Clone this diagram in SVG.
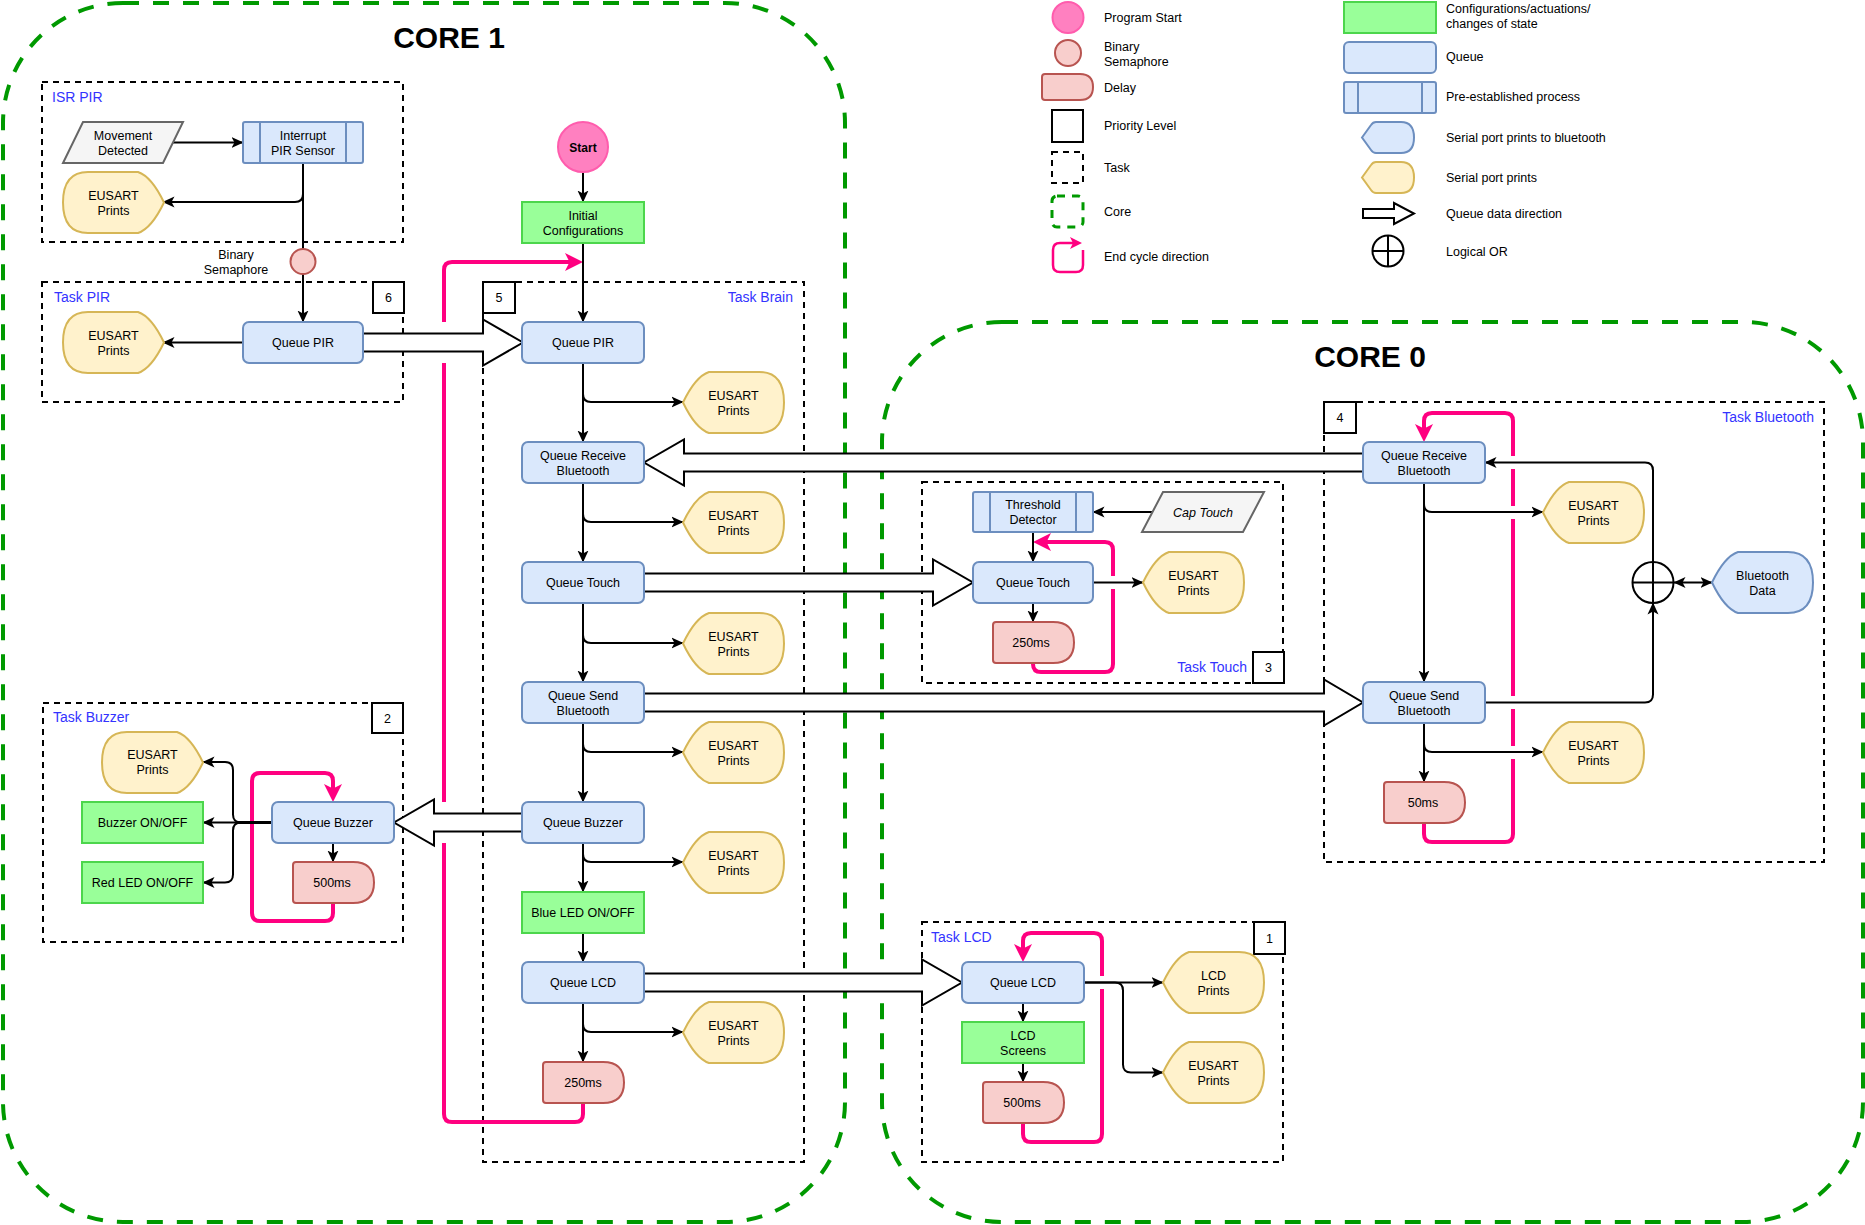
<svg xmlns="http://www.w3.org/2000/svg" width="1865" height="1225" viewBox="0 0 1865 1225">
<style>
text{font-family:"Liberation Sans",Arial,Helvetica,sans-serif;font-size:12.5px;fill:#000}
.c{text-anchor:middle}
.r{text-anchor:end}
.tl{font-size:14px;fill:#3333ff}
.ttl{font-size:30px;font-weight:bold}
.it{font-style:italic}
.b{font-weight:bold}
.core{fill:none;stroke:#009900;stroke-width:4;stroke-dasharray:16 14}
.task{fill:none;stroke:#000;stroke-width:2;stroke-dasharray:6 5}
.prio{fill:#fff;stroke:#000;stroke-width:2}
.q{fill:#dae8fc;stroke:#6c8ebf;stroke-width:2}
.eus{fill:#fff2cc;stroke:#d6b656;stroke-width:2}
.dly{fill:#f8cecc;stroke:#b85450;stroke-width:2}
.act{fill:#99ff99;stroke:#4cd64c;stroke-width:2}
.io{fill:#f5f5f5;stroke:#666;stroke-width:2}
.start{fill:#ff80c0;stroke:#ff5cad;stroke-width:2}
.ln{fill:none;stroke:#000;stroke-width:2}
.cyc{fill:none;stroke:#ff0080;stroke-width:4;stroke-linejoin:round}
.big{fill:#fff;stroke:#000;stroke-width:2}
</style>
<defs>
  <!-- serial print shape, point on the left -->
  <path id="disp" d="M0,30.5 C6,18 14,4 26,0 L76,0 Q101,0 101,30.5 Q101,61 76,61 L26,61 C14,57 6,43 0,30.5 Z"/>
  <!-- serial print shape, point on the right -->
  <path id="dispR" d="M101,30.5 C95,18 87,4 75,0 L25,0 Q0,0 0,30.5 Q0,61 25,61 L75,61 C87,57 95,43 101,30.5 Z"/>
  <!-- small serial print shape for the legend -->
  <path id="dispS" d="M0,15.5 L9,3 Q11,0 14,0 L39,0 Q52,0 52,15.5 Q52,31 39,31 L14,31 Q11,31 9,28 Z"/>
  <!-- delay shape -->
  <path id="delay" d="M3,0 L60,0 Q81,0 81,20.5 Q81,41 60,41 L3,41 Q0,41 0,38 L0,3 Q0,0 3,0 Z"/>
  <marker id="ar" markerUnits="userSpaceOnUse" markerWidth="12" markerHeight="12" viewBox="0 0 12 12" refX="11.5" refY="6" orient="auto-start-reverse">
    <path d="M0,0.5 L12,6 L0,11.5 L3,6 Z" fill="#000"/>
  </marker>
  <marker id="pk" markerUnits="userSpaceOnUse" markerWidth="18" markerHeight="18" viewBox="0 0 18 18" refX="10" refY="9" orient="auto">
    <path d="M0,0 L18,9 L0,18 L4.5,9 Z" fill="#ff0080"/>
  </marker>
  <marker id="pks" markerUnits="userSpaceOnUse" markerWidth="12" markerHeight="12" viewBox="0 0 12 12" refX="6" refY="6" orient="auto">
    <path d="M0,0 L12,6 L0,12 L3,6 Z" fill="#ff0080"/>
  </marker>
</defs>

<rect width="1865" height="1225" fill="#fff"/>

<!-- cores -->
<g id="core1">
  <rect class="core" x="3" y="3" width="842" height="1219" rx="120"/>
  <text class="ttl c" x="449" y="48">CORE 1</text>
</g>
<g id="core0">
  <rect class="core" x="882" y="322" width="981" height="900" rx="120"/>
  <text class="ttl c" x="1370" y="367">CORE 0</text>
</g>

<!-- task frames -->
<g id="task-isr-pir">
  <rect class="task" x="42" y="82" width="361" height="160"/>
  <text class="tl" x="52" y="102">ISR PIR</text>
</g>
<g id="task-pir">
  <rect class="task" x="42" y="282" width="361" height="120"/>
  <text class="tl" x="54" y="302">Task PIR</text>
</g>
<g id="task-brain">
  <rect class="task" x="483" y="282" width="321" height="880"/>
  <text class="tl r" x="793" y="302">Task Brain</text>
</g>
<g id="task-buzzer">
  <rect class="task" x="43" y="703" width="360" height="239"/>
  <text class="tl" x="53" y="722">Task Buzzer</text>
</g>
<g id="task-bluetooth">
  <rect class="task" x="1324" y="402" width="500" height="460"/>
  <text class="tl r" x="1814" y="422">Task Bluetooth</text>
</g>
<g id="task-touch">
  <rect class="task" x="922" y="482" width="361" height="201"/>
  <text class="tl r" x="1247" y="672">Task Touch</text>
</g>
<g id="task-lcd">
  <rect class="task" x="922" y="922" width="361" height="240"/>
  <text class="tl" x="931" y="942">Task LCD</text>
</g>

<!-- connectors -->
<g id="connectors">
  <!-- end-of-cycle loops -->
  <path class="cyc" marker-end="url(#pk)" d="M583,1103 L583,1114 Q583,1122 575,1122 L452,1122 Q444,1122 444,1114 L444,843 M444,802 L444,363 M444,322 L444,270 Q444,262 452,262 L575,262"/>
  <path class="cyc" marker-end="url(#pk)" d="M333,902 L333,913 Q333,921 325,921 L260,921 Q252,921 252,913 L252,781 Q252,773 260,773 L325,773 Q333,773 333,781 L333,794"/>
  <path class="cyc" marker-end="url(#pk)" d="M1033,663 L1033,664 Q1033,672 1041,672 L1105,672 Q1113,672 1113,664 L1113,589 M1113,576 L1113,550 Q1113,542 1105,542 L1041,542"/>
  <path class="cyc" marker-end="url(#pk)" d="M1424,823 L1424,834 Q1424,842 1432,842 L1505,842 Q1513,842 1513,834 L1513,759 M1513,746 L1513,709 M1513,696 L1513,519 M1513,506 L1513,469 M1513,456 L1513,421 Q1513,413 1505,413 L1432,413 Q1424,413 1424,421 L1424,434"/>
  <path class="cyc" marker-end="url(#pk)" d="M1023,1123 L1023,1134 Q1023,1142 1031,1142 L1094,1142 Q1102,1142 1102,1134 L1102,989 M1102,976 L1102,941 Q1102,933 1094,933 L1031,933 Q1023,933 1023,941 L1023,954"/>

  <!-- queue data transfers -->
  <polygon class="big" points="363,333.5 483,333.5 483,319.5 523,342.5 483,365.5 483,351.5 363,351.5"/>
  <polygon class="big" points="1363,453.5 684,453.5 684,439.5 644,462.5 684,485.5 684,471.5 1363,471.5"/>
  <polygon class="big" points="644,573.5 933,573.5 933,559.5 973,582.5 933,605.5 933,591.5 644,591.5"/>
  <polygon class="big" points="644,693.5 1324,693.5 1324,679.5 1363,702.5 1324,725.5 1324,711.5 644,711.5"/>
  <polygon class="big" points="522,813.5 434,813.5 434,799.5 394,822.5 434,845.5 434,831.5 522,831.5"/>
  <polygon class="big" points="644,973.5 922,973.5 922,959.5 962,982.5 922,1005.5 922,991.5 644,991.5"/>

  <!-- ISR PIR / Task PIR -->
  <path class="ln" marker-end="url(#ar)" d="M173,142.5 L243,142.5"/>
  <path class="ln" d="M303,163 L303,249"/>
  <path class="ln" marker-end="url(#ar)" d="M303,163 L303,194 Q303,202 295,202 L163,202"/>
  <path class="ln" marker-end="url(#ar)" d="M303,274 L303,322"/>
  <path class="ln" marker-end="url(#ar)" d="M243,342.5 L163,342.5"/>

  <!-- Task Brain -->
  <path class="ln" marker-end="url(#ar)" d="M583,172 L583,202"/>
  <path class="ln" marker-end="url(#ar)" d="M583,243 L583,322"/>
  <path class="ln" marker-end="url(#ar)" d="M583,363 L583,442"/>
  <path class="ln" marker-end="url(#ar)" d="M583,363 L583,394 Q583,402 591,402 L683,402"/>
  <path class="ln" marker-end="url(#ar)" d="M583,483 L583,562"/>
  <path class="ln" marker-end="url(#ar)" d="M583,483 L583,514 Q583,522 591,522 L683,522"/>
  <path class="ln" marker-end="url(#ar)" d="M583,603 L583,682"/>
  <path class="ln" marker-end="url(#ar)" d="M583,603 L583,635 Q583,643 591,643 L683,643"/>
  <path class="ln" marker-end="url(#ar)" d="M583,723 L583,802"/>
  <path class="ln" marker-end="url(#ar)" d="M583,723 L583,744 Q583,752 591,752 L683,752"/>
  <path class="ln" marker-end="url(#ar)" d="M583,843 L583,892"/>
  <path class="ln" marker-end="url(#ar)" d="M583,843 L583,854 Q583,862 591,862 L683,862"/>
  <path class="ln" marker-end="url(#ar)" d="M583,933 L583,962"/>
  <path class="ln" marker-end="url(#ar)" d="M583,1003 L583,1062"/>
  <path class="ln" marker-end="url(#ar)" d="M583,1003 L583,1024 Q583,1032 591,1032 L683,1032"/>

  <!-- Task Buzzer -->
  <path class="ln" marker-end="url(#ar)" d="M272,822.5 L241,822.5 Q233,822.5 233,814.5 L233,770 Q233,762 225,762 L203,762"/>
  <path class="ln" marker-end="url(#ar)" d="M272,822.5 L203,822.5"/>
  <path class="ln" marker-end="url(#ar)" d="M272,822.5 L241,822.5 Q233,822.5 233,830.5 L233,874.5 Q233,882.5 225,882.5 L203,882.5"/>
  <path class="ln" d="M272,822.5 L237,822.5" style="stroke-width:3"/>
  <path class="ln" marker-end="url(#ar)" d="M333,843 L333,862"/>

  <!-- Task Touch -->
  <path class="ln" marker-end="url(#ar)" d="M1152,512 L1093,512"/>
  <path class="ln" marker-end="url(#ar)" d="M1033,532 L1033,562"/>
  <path class="ln" marker-end="url(#ar)" d="M1093,582.5 L1143,582.5"/>
  <path class="ln" marker-end="url(#ar)" d="M1033,603 L1033,622"/>

  <!-- Task Bluetooth -->
  <path class="ln" marker-end="url(#ar)" d="M1424,483 L1424,682"/>
  <path class="ln" marker-end="url(#ar)" d="M1424,483 L1424,504 Q1424,512 1432,512 L1543,512"/>
  <path class="ln" marker-end="url(#ar)" d="M1424,723 L1424,782"/>
  <path class="ln" marker-end="url(#ar)" d="M1424,723 L1424,744 Q1424,752 1432,752 L1543,752"/>
  <path class="ln" marker-end="url(#ar)" d="M1485,702.5 L1645,702.5 Q1653,702.5 1653,694.5 L1653,603"/>
  <path class="ln" marker-end="url(#ar)" d="M1653,562 L1653,470.5 Q1653,462.5 1645,462.5 L1485,462.5"/>
  <path class="ln" marker-start="url(#ar)" marker-end="url(#ar)" d="M1674,582.5 L1712,582.5"/>

  <!-- Task LCD -->
  <path class="ln" marker-end="url(#ar)" d="M1084,982.5 L1163,982.5"/>
  <path class="ln" marker-end="url(#ar)" d="M1084,982.5 L1115,982.5 Q1123,982.5 1123,990.5 L1123,1064.5 Q1123,1072.5 1131,1072.5 L1163,1072.5"/>
  <path class="ln" marker-end="url(#ar)" d="M1023,1003 L1023,1022"/>
  <path class="ln" marker-end="url(#ar)" d="M1023,1063 L1023,1082"/>
</g>

<!-- ISR PIR nodes -->
<g id="movement-detected">
  <polygon class="io" points="83,122 183,122 163,163 63,163"/>
  <text class="c" x="123" y="139.5">Movement</text>
  <text class="c" x="123" y="154.5">Detected</text>
</g>
<g id="interrupt-pir-sensor">
  <rect class="q" x="243" y="122" width="120" height="41" rx="2"/>
  <path class="q" d="M260,122 L260,163 M346,122 L346,163"/>
  <text class="c" x="303" y="139.5">Interrupt</text>
  <text class="c" x="303" y="154.5">PIR Sensor</text>
</g>
<g id="isr-eusart">
  <use href="#dispR" class="eus" x="63" y="172"/>
  <text class="c" x="113.5" y="199.5">EUSART</text>
  <text class="c" x="113.5" y="214.5">Prints</text>
</g>
<g id="binary-semaphore">
  <circle cx="303" cy="261.5" r="12.5" fill="#f8cecc" stroke="#b85450" stroke-width="2"/>
  <text class="c" x="236" y="258.5">Binary</text>
  <text class="c" x="236" y="273.5">Semaphore</text>
</g>

<!-- Task PIR nodes -->
<g id="prio-6">
  <rect class="prio" x="373" y="282" width="31" height="31"/>
  <text class="c" x="388.5" y="302">6</text>
</g>
<g id="pir-queue">
  <rect class="q" x="243" y="322" width="120" height="41" rx="6"/>
  <text class="c" x="303" y="347">Queue PIR</text>
</g>
<g id="pir-eusart">
  <use href="#dispR" class="eus" x="63" y="312"/>
  <text class="c" x="113.5" y="339.5">EUSART</text>
  <text class="c" x="113.5" y="354.5">Prints</text>
</g>

<!-- Task Brain nodes -->
<g id="prio-5">
  <rect class="prio" x="483" y="282" width="32" height="31"/>
  <text class="c" x="499" y="302">5</text>
</g>
<g id="start">
  <circle class="start" cx="583" cy="147" r="25"/>
  <text class="c b" x="583" y="151.5" style="font-size:12px">Start</text>
</g>
<g id="initial-configurations">
  <rect class="act" x="522" y="202" width="122" height="41"/>
  <text class="c" x="583" y="219.5">Initial</text>
  <text class="c" x="583" y="234.5">Configurations</text>
</g>
<g id="brain-queue-pir">
  <rect class="q" x="522" y="322" width="122" height="41" rx="6"/>
  <text class="c" x="583" y="347">Queue PIR</text>
</g>
<g id="brain-eusart-1">
  <use href="#disp" class="eus" x="683" y="372"/>
  <text class="c" x="733.5" y="399.5">EUSART</text>
  <text class="c" x="733.5" y="414.5">Prints</text>
</g>
<g id="brain-queue-receive-bt">
  <rect class="q" x="522" y="442" width="122" height="41" rx="6"/>
  <text class="c" x="583" y="459.5">Queue Receive</text>
  <text class="c" x="583" y="474.5">Bluetooth</text>
</g>
<g id="brain-eusart-2">
  <use href="#disp" class="eus" x="683" y="492"/>
  <text class="c" x="733.5" y="519.5">EUSART</text>
  <text class="c" x="733.5" y="534.5">Prints</text>
</g>
<g id="brain-queue-touch">
  <rect class="q" x="522" y="562" width="122" height="41" rx="6"/>
  <text class="c" x="583" y="587">Queue Touch</text>
</g>
<g id="brain-eusart-3">
  <use href="#disp" class="eus" x="683" y="613"/>
  <text class="c" x="733.5" y="640.5">EUSART</text>
  <text class="c" x="733.5" y="655.5">Prints</text>
</g>
<g id="brain-queue-send-bt">
  <rect class="q" x="522" y="682" width="122" height="41" rx="6"/>
  <text class="c" x="583" y="699.5">Queue Send</text>
  <text class="c" x="583" y="714.5">Bluetooth</text>
</g>
<g id="brain-eusart-4">
  <use href="#disp" class="eus" x="683" y="722"/>
  <text class="c" x="733.5" y="749.5">EUSART</text>
  <text class="c" x="733.5" y="764.5">Prints</text>
</g>
<g id="brain-queue-buzzer">
  <rect class="q" x="522" y="802" width="122" height="41" rx="6"/>
  <text class="c" x="583" y="827">Queue Buzzer</text>
</g>
<g id="brain-eusart-5">
  <use href="#disp" class="eus" x="683" y="832"/>
  <text class="c" x="733.5" y="859.5">EUSART</text>
  <text class="c" x="733.5" y="874.5">Prints</text>
</g>
<g id="blue-led">
  <rect class="act" x="522" y="892" width="122" height="41"/>
  <text class="c" x="583" y="917">Blue LED ON/OFF</text>
</g>
<g id="brain-queue-lcd">
  <rect class="q" x="522" y="962" width="122" height="41" rx="6"/>
  <text class="c" x="583" y="987">Queue LCD</text>
</g>
<g id="brain-eusart-6">
  <use href="#disp" class="eus" x="683" y="1002"/>
  <text class="c" x="733.5" y="1029.5">EUSART</text>
  <text class="c" x="733.5" y="1044.5">Prints</text>
</g>
<g id="brain-delay">
  <use href="#delay" class="dly" x="543" y="1062"/>
  <text class="c" x="583" y="1087">250ms</text>
</g>

<!-- Task Buzzer nodes -->
<g id="prio-2">
  <rect class="prio" x="372" y="703" width="31" height="30"/>
  <text class="c" x="387.5" y="722.5">2</text>
</g>
<g id="buzzer-eusart">
  <use href="#dispR" class="eus" x="102" y="732"/>
  <text class="c" x="152.5" y="759">EUSART</text>
  <text class="c" x="152.5" y="774">Prints</text>
</g>
<g id="buzzer-on-off">
  <rect class="act" x="82" y="802" width="121" height="41"/>
  <text class="c" x="142.5" y="827">Buzzer ON/OFF</text>
</g>
<g id="red-led">
  <rect class="act" x="82" y="862" width="121" height="41"/>
  <text class="c" x="142.5" y="887">Red LED ON/OFF</text>
</g>
<g id="buzzer-queue">
  <rect class="q" x="272" y="802" width="122" height="41" rx="6"/>
  <text class="c" x="333" y="827">Queue Buzzer</text>
</g>
<g id="buzzer-delay">
  <use href="#delay" class="dly" x="293" y="862"/>
  <text class="c" x="332" y="886.5">500ms</text>
</g>

<!-- Task Touch nodes -->
<g id="prio-3">
  <rect class="prio" x="1253" y="652" width="31" height="31"/>
  <text class="c" x="1268.5" y="672">3</text>
</g>
<g id="threshold-detector">
  <rect class="q" x="973" y="492" width="120" height="40" rx="2"/>
  <path class="q" d="M990,492 L990,532 M1076,492 L1076,532"/>
  <text class="c" x="1033" y="508.5">Threshold</text>
  <text class="c" x="1033" y="523.5">Detector</text>
</g>
<g id="cap-touch">
  <polygon class="io" points="1163,492 1264,492 1243,532 1142,532"/>
  <text class="c it" x="1203" y="516.5">Cap Touch</text>
</g>
<g id="touch-queue">
  <rect class="q" x="973" y="562" width="120" height="41" rx="6"/>
  <text class="c" x="1033" y="587">Queue Touch</text>
</g>
<g id="touch-eusart">
  <use href="#disp" class="eus" x="1143" y="552"/>
  <text class="c" x="1193.5" y="579.5">EUSART</text>
  <text class="c" x="1193.5" y="594.5">Prints</text>
</g>
<g id="touch-delay">
  <use href="#delay" class="dly" x="993" y="622"/>
  <text class="c" x="1031" y="647">250ms</text>
</g>

<!-- Task Bluetooth nodes -->
<g id="prio-4">
  <rect class="prio" x="1324" y="402" width="32" height="31"/>
  <text class="c" x="1340" y="422">4</text>
</g>
<g id="bt-queue-receive">
  <rect class="q" x="1363" y="442" width="122" height="41" rx="6"/>
  <text class="c" x="1424" y="459.5">Queue Receive</text>
  <text class="c" x="1424" y="474.5">Bluetooth</text>
</g>
<g id="bt-eusart-1">
  <use href="#disp" class="eus" x="1543" y="482"/>
  <text class="c" x="1593.5" y="509.5">EUSART</text>
  <text class="c" x="1593.5" y="524.5">Prints</text>
</g>
<g id="bt-queue-send">
  <rect class="q" x="1363" y="682" width="122" height="41" rx="6"/>
  <text class="c" x="1424" y="699.5">Queue Send</text>
  <text class="c" x="1424" y="714.5">Bluetooth</text>
</g>
<g id="bt-eusart-2">
  <use href="#disp" class="eus" x="1543" y="722"/>
  <text class="c" x="1593.5" y="749.5">EUSART</text>
  <text class="c" x="1593.5" y="764.5">Prints</text>
</g>
<g id="bt-delay">
  <use href="#delay" class="dly" x="1384" y="782"/>
  <text class="c" x="1423" y="807">50ms</text>
</g>
<g id="logical-or">
  <circle cx="1653" cy="582.5" r="20.5" fill="#fff" stroke="#000" stroke-width="2"/>
  <path class="ln" d="M1632.5,582.5 L1673.5,582.5 M1653,562 L1653,603"/>
</g>
<g id="bluetooth-data">
  <use href="#disp" class="q" x="1712" y="552"/>
  <text class="c" x="1762.5" y="579.5">Bluetooth</text>
  <text class="c" x="1762.5" y="594.5">Data</text>
</g>

<!-- Task LCD nodes -->
<g id="prio-1">
  <rect class="prio" x="1254" y="922" width="31" height="32"/>
  <text class="c" x="1269.5" y="942.5">1</text>
</g>
<g id="lcd-queue">
  <rect class="q" x="962" y="962" width="122" height="41" rx="6"/>
  <text class="c" x="1023" y="987">Queue LCD</text>
</g>
<g id="lcd-prints">
  <use href="#disp" class="eus" x="1163" y="952"/>
  <text class="c" x="1213.5" y="979.5">LCD</text>
  <text class="c" x="1213.5" y="994.5">Prints</text>
</g>
<g id="lcd-eusart">
  <use href="#disp" class="eus" x="1163" y="1042"/>
  <text class="c" x="1213.5" y="1069.5">EUSART</text>
  <text class="c" x="1213.5" y="1084.5">Prints</text>
</g>
<g id="lcd-screens">
  <rect class="act" x="962" y="1022" width="122" height="41"/>
  <text class="c" x="1023" y="1039.5">LCD</text>
  <text class="c" x="1023" y="1054.5">Screens</text>
</g>
<g id="lcd-delay">
  <use href="#delay" class="dly" x="983" y="1082"/>
  <text class="c" x="1022" y="1107">500ms</text>
</g>

<!-- legend -->
<g id="legend">
  <circle class="start" cx="1068" cy="17.5" r="15.5"/>
  <text x="1104" y="22">Program Start</text>
  <circle cx="1068" cy="53" r="13" fill="#f8cecc" stroke="#b85450" stroke-width="2"/>
  <text x="1104" y="50.5">Binary</text>
  <text x="1104" y="65.5">Semaphore</text>
  <path class="dly" d="M1045,74 L1080,74 Q1093,74 1093,87 Q1093,100 1080,100 L1045,100 Q1042,100 1042,97 L1042,77 Q1042,74 1045,74 Z"/>
  <text x="1104" y="91.5">Delay</text>
  <rect class="prio" x="1052" y="110" width="31" height="32"/>
  <text x="1104" y="129.5">Priority Level</text>
  <rect class="task" x="1052" y="152" width="31" height="31"/>
  <text x="1104" y="171.5">Task</text>
  <rect x="1052" y="196" width="31" height="31" rx="5" fill="none" stroke="#009900" stroke-width="3" stroke-dasharray="8 7"/>
  <text x="1104" y="215.5">Core</text>
  <path d="M1083,250 L1083,265 Q1083,272 1076,272 L1060,272 Q1053,272 1053,265 L1053,250 Q1053,243 1060,243 L1076,243" fill="none" stroke="#ff0080" stroke-width="2.5" marker-end="url(#pks)"/>
  <text x="1104" y="260.5">End cycle direction</text>

  <rect class="act" x="1344" y="2" width="92" height="31"/>
  <text x="1446" y="13">Configurations/actuations/</text>
  <text x="1446" y="28">changes of state</text>
  <rect class="q" x="1344" y="42" width="92" height="31" rx="5"/>
  <text x="1446" y="60.5">Queue</text>
  <rect class="q" x="1344" y="82" width="92" height="31" rx="2"/>
  <path class="q" d="M1358,82 L1358,113 M1422,82 L1422,113"/>
  <text x="1446" y="100.5">Pre-established process</text>
  <use href="#dispS" class="q" x="1362" y="122"/>
  <text x="1446" y="141.5">Serial port prints to bluetooth</text>
  <use href="#dispS" class="eus" x="1362" y="162"/>
  <text x="1446" y="181.5">Serial port prints</text>
  <polygon class="big" points="1363,209 1394,209 1394,203 1414,213.5 1394,224 1394,218 1363,218"/>
  <text x="1446" y="217.5">Queue data direction</text>
  <circle cx="1388" cy="251" r="15.5" fill="#fff" stroke="#000" stroke-width="2"/>
  <path class="ln" d="M1372.5,251 L1403.5,251 M1388,235.5 L1388,266.5"/>
  <text x="1446" y="255.5">Logical OR</text>
</g>
</svg>
